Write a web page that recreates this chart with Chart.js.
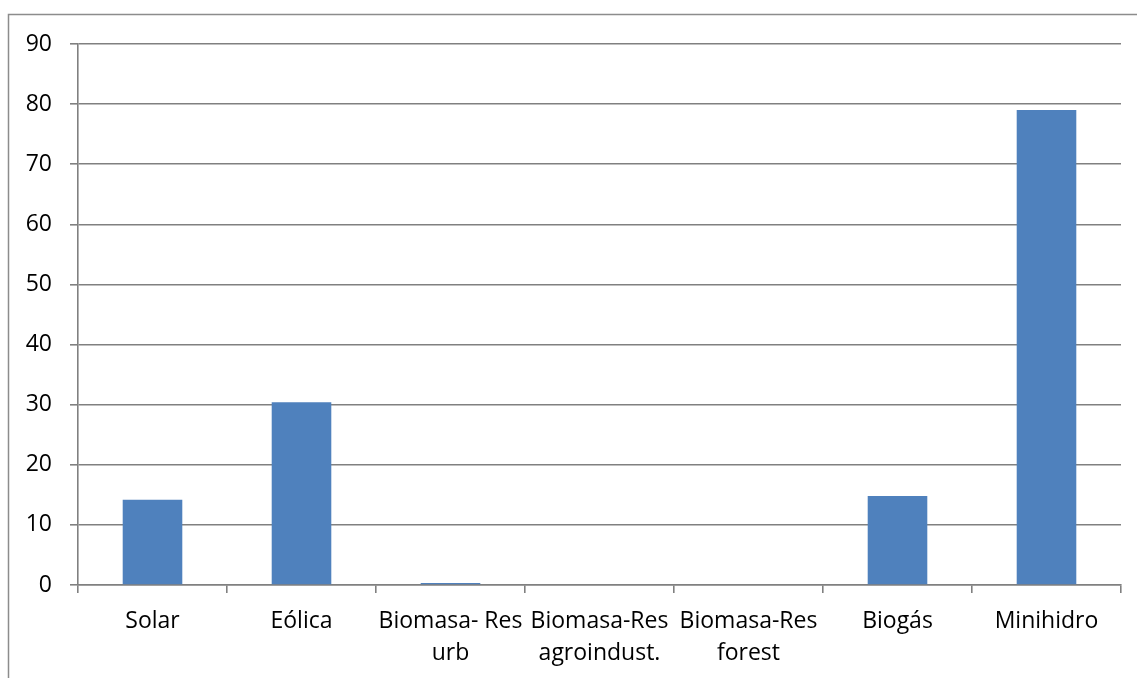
<!DOCTYPE html>
<html>
<head>
<meta charset="utf-8">
<script src="https://cdn.jsdelivr.net/npm/chart.js@4/dist/chart.umd.min.js"></script>
<style>
html,body{margin:0;padding:0;background:#fff;}
#wrap{position:absolute;left:0;top:0;width:1137px;height:678px;}
</style>
</head>
<body>
<div id="wrap"><canvas id="c" width="1137" height="678"></canvas></div>
<script>
const categories = ["Solar", "Eólica", ["Biomasa- Res", "urb"], ["Biomasa-Res", "agroindust."], ["Biomasa-Res", "forest"], "Biogás", "Minihidro"];
const values = [14.2, 30.4, 0.35, 0, 0, 14.8, 79.0];
const yMin = 0, yMax = 90, yStep = 10;

const framePlugin = {
  id: 'frame',
  beforeDraw(chart) {
    const ctx = chart.ctx;
    ctx.save();
    ctx.fillStyle = '#fff';
    ctx.fillRect(0, 0, chart.width, chart.height);
    ctx.strokeStyle = '#8c8c8c';
    ctx.lineWidth = 1.5;
    ctx.beginPath();
    ctx.moveTo(8.5, chart.height + 5);
    ctx.lineTo(8.5, 14.5);
    ctx.lineTo(chart.width + 5, 14.5);
    ctx.stroke();
    ctx.restore();
  }
};

const font = { family: '"Open Sans"', size: 23 };

new Chart(document.getElementById('c'), {
  type: 'bar',
  data: {
    labels: categories,
    datasets: [{
      data: values,
      backgroundColor: '#4F81BD',
      borderWidth: 0,
      barPercentage: 0.4,
      categoryPercentage: 1.0
    }]
  },
  options: {
    responsive: false,
    animation: false,
    devicePixelRatio: 1,
    layout: { padding: { left: 0, right: 16, top: 44, bottom: 0 } },
    plugins: { legend: { display: false }, tooltip: { enabled: false } },
    scales: {
      x: {
        offset: true,
        grid: { display: true, drawOnChartArea: false, drawTicks: true, tickLength: 8, color: '#808080', lineWidth: 1.6, offset: true },
        border: { display: true, color: '#808080', width: 1.6 },
        ticks: { color: '#000', font: { family: '"Open Sans"', size: 23, lineHeight: 1.39 }, maxRotation: 0, minRotation: 0, autoSkip: false, padding: 12 },
        afterFit(scale) { scale.height = 93; }
      },
      y: {
        min: yMin, max: yMax,
        grid: { color: '#808080', lineWidth: 1.6, drawTicks: true, tickLength: 8 },
        border: { display: true, color: '#808080', width: 1.6 },
        ticks: { stepSize: yStep, color: '#000', font: font, padding: 18 },
        afterFit(scale) { scale.width = 78; }
      }
    }
  },
  plugins: [framePlugin]
});
</script>
</body>
</html>
